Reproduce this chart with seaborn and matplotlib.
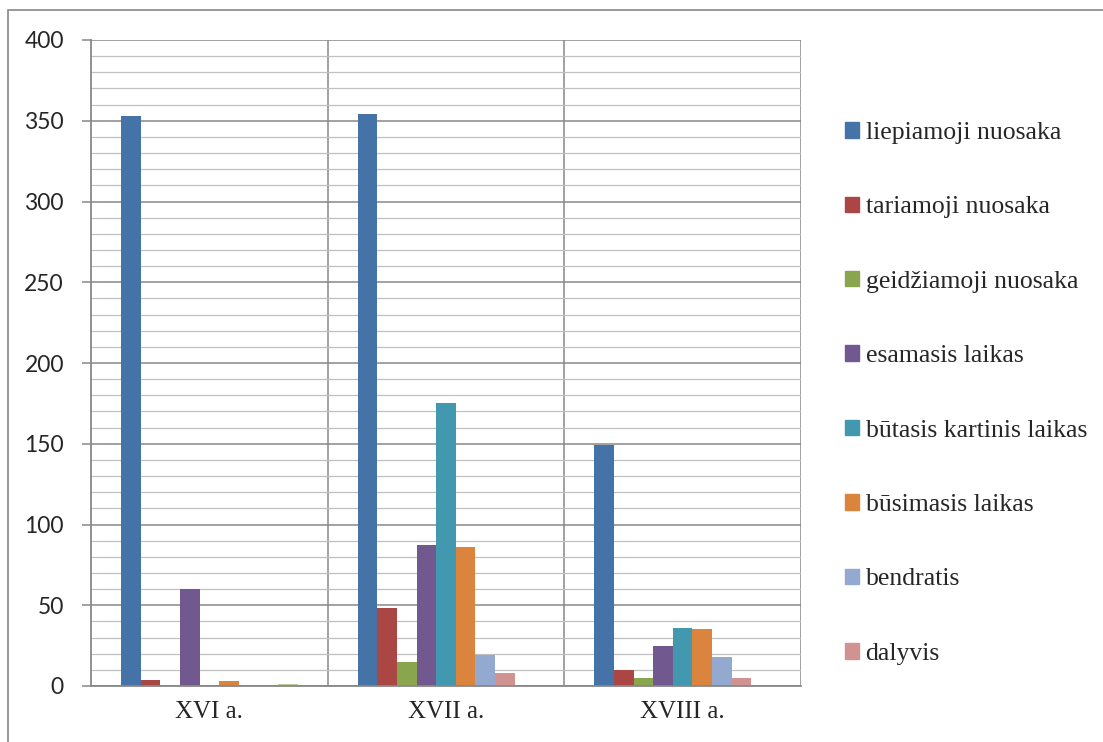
import matplotlib
matplotlib.use("Agg")
import matplotlib.pyplot as plt
import matplotlib.patches as mpatches
from matplotlib.ticker import MultipleLocator, FixedLocator
import seaborn as sns
import pandas as pd

categories = ["XVI a.", "XVII a.", "XVIII a."]
series = ["liepiamoji nuosaka", "tariamoji nuosaka", "geidžiamoji nuosaka",
          "esamasis laikas", "būtasis kartinis laikas", "būsimasis laikas",
          "bendratis", "dalyvis", "kita"]
values = {
    "liepiamoji nuosaka":      [353, 354, 149],
    "tariamoji nuosaka":       [4, 48, 10],
    "geidžiamoji nuosaka":     [0, 15, 5],
    "esamasis laikas":         [60, 87, 25],
    "būtasis kartinis laikas": [0, 175, 36],
    "būsimasis laikas":        [3, 86, 35],
    "bendratis":               [0, 19, 18],
    "dalyvis":                 [0, 8, 5],
    "kita":                    [1, 0, 0],
}
colors = ["#4572A7", "#AA4643", "#89A54E", "#71588F", "#4198AF",
          "#DB843D", "#93A9CF", "#D19392", "#B9CD96"]
legend_series = series[:8]

rows = []
for s in series:
    for c, v in zip(categories, values[s]):
        rows.append({"cat": c, "series": s, "value": v})
df = pd.DataFrame(rows)

sns.set_style("white")
fig = plt.figure(figsize=(11.03, 7.42), dpi=100)
ax = fig.add_axes([91/1103, 1-686/742, (801-91)/1103, (686-40)/742])

sns.barplot(data=df, x="cat", y="value", hue="series", hue_order=series,
            order=categories, palette=colors, width=0.747, gap=0,
            saturation=1, ax=ax, legend=False, linewidth=0)

ax.set_xlim(-0.5, 2.5)
ax.set_ylim(0, 400)
ax.yaxis.set_major_locator(MultipleLocator(50))
ax.yaxis.set_minor_locator(MultipleLocator(10))
ax.xaxis.set_minor_locator(FixedLocator([0.5, 1.5, 2.5]))
ax.set_axisbelow(True)
ax.grid(True, which="major", axis="y", color="#888888", linewidth=1.1)
ax.grid(True, which="minor", axis="y", color="#c0c0c0", linewidth=0.9)
ax.grid(True, which="minor", axis="x", color="#888888", linewidth=1.1)
ax.grid(False, which="major", axis="x")
for side in ["top", "right"]:
    ax.spines[side].set_visible(False)
for side in ["left", "bottom"]:
    ax.spines[side].set_color("#888888")
    ax.spines[side].set_linewidth(1.3)
ax.tick_params(axis="y", which="major", length=6.5, color="#888888", width=1.1,
               labelsize=16.5, pad=13, left=True)
ax.tick_params(axis="y", which="minor", length=0)
ax.tick_params(axis="x", which="both", length=0, pad=11)
ax.tick_params(axis="x", which="minor", labelbottom=False)
for lab in ax.get_yticklabels():
    lab.set_fontfamily("Lato")
for lab in ax.get_xticklabels():
    lab.set_fontfamily("Liberation Serif")
    lab.set_fontsize(18)
ax.set_xlabel("")
ax.set_ylabel("")

handles = [mpatches.Patch(color=colors[i], label=legend_series[i]) for i in range(8)]
leg = fig.legend(handles=handles, loc="upper left",
                 bbox_to_anchor=(845/1103, 1-122/742), frameon=False,
                 prop={"family": "Liberation Serif", "size": 18.5},
                 handlelength=0.55, handleheight=0.55, handletextpad=0.25,
                 labelspacing=2.04, borderaxespad=0, borderpad=0)

border = mpatches.Rectangle((8/1103, -0.1), 1.2, 1.1 - 10/742 + 0.0,
                            transform=fig.transFigure, fill=False,
                            edgecolor="#888888", linewidth=1.2)
fig.patches.append(border)

fig.savefig("out.png", dpi=100)
